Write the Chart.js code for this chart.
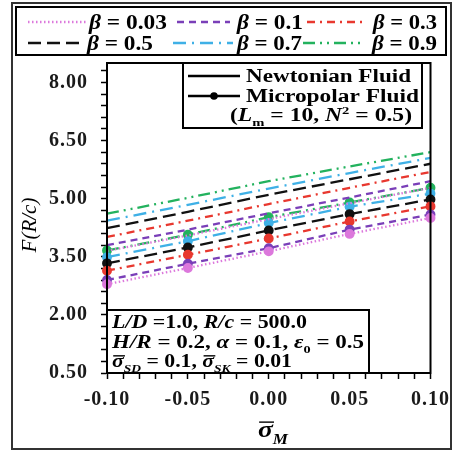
<!DOCTYPE html>
<html><head><meta charset="utf-8">
<script src="https://cdn.jsdelivr.net/npm/chart.js@4/dist/chart.umd.min.js"></script>
<style>html,body{margin:0;padding:0;background:#fff}#wrap{width:457px;height:451px;position:relative}</style>
</head><body><div id="wrap"><canvas id="c"></canvas></div>
<script>
// Eccentricity-ratio axis values
const sigmaM = [-0.10, -0.05, 0.00, 0.05, 0.10];
const betaValues = ['0.03', '0.1', '0.3', '0.5', '0.7', '0.9'];

// Load capacity F(R/c), Newtonian fluid
const newtonB003 = [3.65, 4.05, 4.47, 4.88, 5.28];
const newtonB01  = [3.80, 4.20, 4.62, 5.03, 5.45];
const newtonB03  = [4.01, 4.43, 4.86, 5.28, 5.69];
const newtonB05  = [4.24, 4.66, 5.10, 5.50, 5.90];
const newtonB07  = [4.43, 4.84, 5.26, 5.66, 6.05];
const newtonB09  = [4.61, 5.02, 5.45, 5.83, 6.20];

// Load capacity F(R/c), micropolar fluid (Lm = 10, N^2 = 0.5)
const microB003 = [2.79, 3.21, 3.64, 4.09, 4.50];
const microB01  = [2.90, 3.32, 3.72, 4.20, 4.59];
const microB03  = [3.14, 3.55, 3.97, 4.41, 4.80];
const microB05  = [3.33, 3.74, 4.18, 4.60, 4.98];
const microB07  = [3.49, 3.90, 4.37, 4.79, 5.13];
const microB09  = [3.66, 4.07, 4.52, 4.90, 5.28];

const yTickLabels = [0.50, 2.00, 3.50, 5.00, 6.50, 8.00];
const xTickLabels = [-0.10, -0.05, 0.00, 0.05, 0.10];

const newtonSeries = [newtonB003, newtonB01, newtonB03, newtonB05, newtonB07, newtonB09];
const microSeries  = [microB003, microB01, microB03, microB05, microB07, microB09];

const colors = ['#dc78dc', '#7a3fb8', '#e8382f', '#111111', '#3fb0e6', '#23b25e'];
const dashes = [[1.5, 2.5], [7, 5], [8, 5, 2, 5], [13, 6], [13, 6, 2, 6], [12, 5, 2, 5, 2, 5]];

const SERIF = '"Liberation Serif", "Times New Roman", serif';

const datasets = [];
newtonSeries.forEach((vals, i) => {
  datasets.push({
    label: 'Newtonian, β = ' + betaValues[i],
    data: sigmaM.map((x, j) => ({ x, y: vals[j] })),
    borderColor: colors[i], borderDash: dashes[i], borderWidth: 2.3,
    pointRadius: 0, fill: false, tension: 0, clip: false
  });
});
microSeries.forEach((vals, i) => {
  datasets.push({
    label: 'Micropolar, β = ' + betaValues[i],
    data: sigmaM.map((x, j) => ({ x, y: vals[j] })),
    borderColor: colors[i], borderDash: dashes[i], borderWidth: 2.3,
    pointRadius: 3.8, pointBackgroundColor: colors[i], pointBorderColor: colors[i],
    fill: false, tension: 0, clip: false
  });
});

// minor tick positions along each axis
const yTicksAll = [];
for (let k = 0; k <= 26; k++) yTicksAll.push(+(0.5 + 0.3 * k).toFixed(2));
const xTicksAll = [];
for (let k = 0; k <= 20; k++) xTicksAll.push(+(-0.1 + 0.01 * k).toFixed(2));

function findLabel(list, v) {
  const m = list.find(t => Math.abs(t - v) < 1e-6);
  return m === undefined ? '' : (Math.abs(m) < 1e-9 ? 0 : m).toFixed(2);
}

function runFont(r, size) {
  const s = (r.sub || r.sup) ? size * 0.62 : size;
  return (r.it ? 'italic ' : '') + (r.light ? '' : 'bold ') + s + 'px ' + SERIF;
}

// draws a line of mixed-style text, stretched horizontally to the given width
function drawRuns(ctx, x, y, runs, size, width) {
  ctx.save();
  ctx.textBaseline = 'alphabetic';
  ctx.textAlign = 'left';
  let total = 0;
  runs.forEach(r => { ctx.font = runFont(r, size); total += ctx.measureText(r.t).width; });
  const sx = width ? width / total : 1;
  ctx.translate(x, y);
  ctx.scale(sx, 1);
  let cx = 0;
  runs.forEach(r => {
    ctx.font = runFont(r, size);
    const dy = r.sub ? size * 0.28 : (r.sup ? -size * 0.38 : 0);
    const w = ctx.measureText(r.t).width;
    ctx.fillText(r.t, cx, dy);
    if (r.bar) {
      ctx.lineWidth = 1.4;
      ctx.setLineDash([]);
      ctx.beginPath();
      ctx.moveTo(cx + 1, -size * 0.62);
      ctx.lineTo(cx + w + 1, -size * 0.62);
      ctx.stroke();
    }
    cx += w;
  });
  ctx.restore();
}

function sampleLine(ctx, x1, x2, y, color, dash, dot) {
  ctx.save();
  ctx.strokeStyle = color;
  ctx.lineWidth = 2.3;
  ctx.setLineDash(dash);
  ctx.beginPath();
  ctx.moveTo(x1, y);
  ctx.lineTo(x2, y);
  ctx.stroke();
  if (dot) {
    ctx.fillStyle = color;
    ctx.beginPath();
    ctx.arc((x1 + x2) / 2, y, 3.8, 0, Math.PI * 2);
    ctx.fill();
  }
  ctx.restore();
}

const decor = {
  id: 'decor',
  beforeDraw(chart) {
    const ctx = chart.ctx;
    ctx.save();
    ctx.fillStyle = '#fff';
    ctx.fillRect(0, 0, chart.width, chart.height);
    ctx.restore();
    // slightly wider spacing for the axis tick labels
    ctx.letterSpacing = '1px';
  },
  beforeDatasetsDraw(chart) {
    chart.ctx.letterSpacing = '0px';
  },
  afterDraw(chart) {
    const ctx = chart.ctx;
    const a = chart.chartArea;
    ctx.save();
    ctx.letterSpacing = '0px';
    ctx.fillStyle = '#000';
    ctx.strokeStyle = '#000';

    // outer figure frame
    ctx.lineWidth = 2;
    ctx.strokeStyle = '#333';
    ctx.strokeRect(12, 3, 439, 446);

    // plot frame
    ctx.strokeStyle = '#000';
    ctx.lineWidth = 2;
    ctx.strokeRect(a.left, a.top, a.right - a.left, a.bottom - a.top);

    // beta legend box
    ctx.fillStyle = '#fff';
    ctx.fillRect(16, 7, 430, 48);
    ctx.strokeRect(16, 7, 430, 48);
    const legendPos = [
      [28, 87, 89, 22, 78], [177, 230, 237, 22, 66], [307, 363, 373, 22, 64],
      [28, 83, 87, 43, 66], [173, 233, 237, 43, 65], [303, 360, 372, 43, 65]
    ];
    betaValues.forEach((b, i) => {
      const p = legendPos[i];
      sampleLine(ctx, p[0], p[1], p[3], colors[i], dashes[i], false);
      ctx.fillStyle = '#000';
      drawRuns(ctx, p[2], p[3] + 7, [{ t: 'β', it: true }, { t: ' = ' + b }], 20, p[4]);
    });

    // fluid-type legend box
    ctx.fillStyle = '#fff';
    ctx.fillRect(183, a.top, 239, 65);
    ctx.strokeRect(183, a.top, 239, 65);
    sampleLine(ctx, 188, 240, 76, '#000', [], false);
    sampleLine(ctx, 188, 240, 96, '#000', [], true);
    ctx.fillStyle = '#000';
    drawRuns(ctx, 246, 82, [{ t: 'Newtonian Fluid' }], 18, 165);
    drawRuns(ctx, 246, 102, [{ t: 'Micropolar Fluid' }], 18, 173);
    drawRuns(ctx, 230, 121, [
      { t: '(' }, { t: 'L', it: true }, { t: 'm', sub: true }, { t: ' = 10, ' },
      { t: 'N', it: true }, { t: '2', sup: true }, { t: ' = 0.5)' }
    ], 18, 182);

    // parameter box
    ctx.fillStyle = '#fff';
    ctx.fillRect(a.left, 310, 262, a.bottom - 310);
    ctx.strokeRect(a.left, 310, 262, a.bottom - 310);
    ctx.fillStyle = '#000';
    drawRuns(ctx, 112, 328, [
      { t: 'L/D', it: true }, { t: ' =1.0, ' }, { t: 'R/c', it: true }, { t: ' = 500.0' }
    ], 18, 195);
    drawRuns(ctx, 112, 348, [
      { t: 'H/R', it: true }, { t: ' = 0.2, ' }, { t: 'α', it: true }, { t: ' = 0.1, ' },
      { t: 'ε', it: true }, { t: '0', sub: true }, { t: ' = 0.5' }
    ], 18, 252);
    drawRuns(ctx, 112, 367, [
      { t: 'σ', it: true, bar: true }, { t: 'SD', it: true, sub: true }, { t: ' = 0.1, ' },
      { t: 'σ', it: true, bar: true }, { t: 'SK', it: true, sub: true }, { t: ' = 0.01' }
    ], 18, 180);

    // axis titles
    drawRuns(ctx, 258, 437, [{ t: 'σ', it: true, bar: true }, { t: 'M', it: true, sub: true }], 24, 30);
    ctx.save();
    ctx.translate(30, 225);
    ctx.rotate(-Math.PI / 2);
    ctx.font = 'italic 21px ' + SERIF;
    ctx.textAlign = 'center';
    ctx.textBaseline = 'middle';
    ctx.fillText('F(R/c)', 0, 0);
    ctx.restore();

    ctx.restore();
  }
};

const tickFont = { family: SERIF, size: 20, weight: 'bold' };

new Chart(document.getElementById('c'), {
  type: 'line',
  data: { datasets },
  options: {
    responsive: true,
    maintainAspectRatio: false,
    animation: false,
    devicePixelRatio: 1,
    layout: { padding: { left: 0, top: 63, right: 25, bottom: 0 } },
    plugins: { legend: { display: false }, tooltip: { enabled: false }, title: { display: false } },
    scales: {
      x: {
        type: 'linear', min: -0.1, max: 0.1,
        afterBuildTicks(s) { s.ticks = xTicksAll.map(v => ({ value: v })); },
        afterFit(s) { s.height = 78; },
        ticks: {
          autoSkip: false, maxRotation: 0, padding: 9, color: '#1a1a1a', font: tickFont,
          callback: v => findLabel(xTickLabels, v)
        },
        grid: { drawOnChartArea: false, drawTicks: true, tickLength: 6, tickColor: '#000', tickWidth: 1.5 },
        border: { color: '#000', width: 2 }
      },
      y: {
        type: 'linear', min: 0.5, max: 8.5,
        afterBuildTicks(s) { s.ticks = yTicksAll.map(v => ({ value: v })); },
        afterFit(s) { s.width = 107; },
        ticks: {
          autoSkip: false, padding: 13, color: '#1a1a1a', font: tickFont,
          callback: v => findLabel(yTickLabels, v)
        },
        grid: { drawOnChartArea: false, drawTicks: true, tickLength: 6, tickColor: '#000', tickWidth: 1.5 },
        border: { color: '#000', width: 2 }
      }
    }
  },
  plugins: [decor]
});
</script>
</body></html>
